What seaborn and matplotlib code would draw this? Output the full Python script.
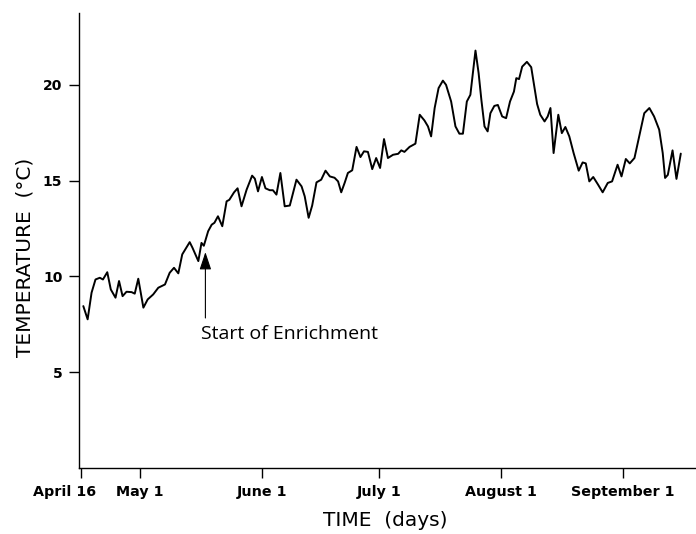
import matplotlib
matplotlib.use("Agg")
import matplotlib.pyplot as plt
import matplotlib.transforms as mtransforms
import seaborn as sns
import pandas as pd

# Day offset from April 16, and water temperature (deg C)
days = [0.6, 1.7, 2.7, 3.7, 4.8, 5.6, 6.7, 7.6, 8.8, 9.7, 10.6, 11.6, 12.9, 13.7,
        14.6, 15.9, 17.0, 18.4, 19.7, 21.4, 22.6, 23.7, 24.8, 25.8, 27.7, 28.4,
        29.9, 30.7, 31.3, 32.4, 33.3, 34.0, 34.9, 36.0, 37.1, 37.8, 39.0, 39.9,
        40.9, 42.2, 43.6, 44.3, 45.1, 46.1, 47.0, 48.1, 48.9, 49.8, 50.8, 51.9,
        53.2, 54.9, 56.2, 57.0, 58.0, 58.9, 60.0, 61.2, 62.3, 63.4, 64.6, 65.5,
        66.3, 67.2, 68.0, 69.1, 70.2, 71.2, 72.1, 73.1, 74.2, 75.2, 76.2, 77.2,
        78.2, 79.5, 80.8, 81.6, 82.4, 83.7, 85.2, 86.3, 87.5, 88.4, 89.2, 90.1,
        91.1, 92.2, 93.0, 94.3, 95.4, 96.4, 97.3, 98.3, 99.2, 100.5, 101.3, 102.0,
        102.8, 103.6, 104.3, 105.3, 106.2, 107.3, 108.3, 109.3, 110.3, 110.9,
        111.6, 112.4, 113.6, 114.7, 115.5, 116.2, 117.0, 118.1, 118.9, 119.6,
        120.4, 121.6, 122.5, 123.4, 124.4, 125.5, 126.8, 127.8, 128.6, 129.5,
        130.5, 131.7, 132.9, 134.2, 135.3, 136.7, 137.7, 138.8, 139.8, 141.0,
        142.2, 143.5, 144.8, 146.0, 147.3, 148.2, 148.8, 149.5, 150.7, 151.7,
        152.8]
temps = [8.45, 7.76, 9.15, 9.84, 9.93, 9.84, 10.22, 9.32, 8.89, 9.76, 8.97, 9.2,
         9.18, 9.1, 9.88, 8.37, 8.8, 9.06, 9.41, 9.58, 10.19, 10.45, 10.16, 11.15,
         11.79, 11.5, 10.8, 11.75, 11.6, 12.36, 12.7, 12.8, 13.14, 12.62, 13.92,
         14.0, 14.39, 14.6, 13.66, 14.53, 15.26, 15.1, 14.44, 15.19, 14.6, 14.5,
         14.5, 14.27, 15.4, 13.66, 13.7, 15.05, 14.7, 14.18, 13.06, 13.7, 14.91,
         15.05, 15.52, 15.22, 15.15, 14.96, 14.39, 14.9, 15.4, 15.54, 16.76, 16.23,
         16.53, 16.5, 15.6, 16.18, 15.66, 17.17, 16.18, 16.35, 16.4, 16.58, 16.5,
         16.76, 16.93, 18.44, 18.14, 17.83, 17.31, 18.79, 19.83, 20.22, 20.0,
         19.13, 17.83, 17.45, 17.45, 19.13, 19.48, 21.79, 20.61, 19.22, 17.83,
         17.57, 18.52, 18.9, 18.95, 18.35, 18.26, 19.13, 19.65, 20.35, 20.3, 20.95,
         21.2, 20.92, 19.9, 19.0, 18.44, 18.09, 18.35, 18.79, 16.44, 18.44, 17.48,
         17.8, 17.31, 16.44, 15.52, 15.95, 15.9, 14.96, 15.19, 14.8, 14.39, 14.88,
         14.96, 15.83, 15.22, 16.13, 15.9, 16.18, 17.31, 18.52, 18.79, 18.35,
         17.66, 16.44, 15.14, 15.3, 16.58, 15.09, 16.41]

tick_days = [0, 15, 46, 76, 107, 138]
tick_labels = ["April 16", "May 1", "June 1", "July 1", "August 1", "September 1"]
y_ticks = [5, 10, 15, 20]

annot_day = 31.7
annot_tip = 11.27
annot_tail = 7.83
annot_text = "Start of Enrichment"
annot_text_day = 30.7
annot_text_temp = 7.0

df = pd.DataFrame({"day": days, "temp": temps})

sns.set_theme(style="ticks")
plt.rcParams["font.family"] = ["DejaVu Sans"]

fig = plt.figure(figsize=(6.96, 5.34), dpi=100)
ax = fig.add_axes([79 / 696, 1 - 468 / 534, 1 - 79 / 696 - 0.001, (468 - 13) / 534])

sns.lineplot(data=df, x="day", y="temp", ax=ax, color="black", linewidth=1.4,
             estimator=None, sort=False)

ax.set_xlim(-0.5, 156.5)
ax.set_ylim(0, 23.75)
ax.set_xticks(tick_days)
ax.set_xticklabels(tick_labels, fontsize=10.3, fontweight="bold")
ax.set_yticks(y_ticks)
ax.set_yticklabels([str(v) for v in y_ticks], fontsize=10, fontweight="bold")
ax.tick_params(axis="both", direction="out", length=7, width=1, color="black",
               pad=5, labelcolor="black")
for s in ["top", "right"]:
    ax.spines[s].set_visible(False)
for s in ["left", "bottom"]:
    ax.spines[s].set_color("black")
    ax.spines[s].set_linewidth(1.0)

# first date label sits left of its tick, as in the original
first = ax.get_xticklabels()[0]
first.set_transform(first.get_transform() +
                    mtransforms.ScaledTranslation(-16 / 100, 0, fig.dpi_scale_trans))

ax.set_xlabel("TIME  (days)", fontsize=14.5, color="black")
ax.xaxis.set_label_coords(0.497, -0.095)
ax.set_ylabel("TEMPERATURE  (°C)", fontsize=14.5, color="black")
ax.yaxis.set_label_coords(-0.072, 0.464)

ax.annotate("", xy=(annot_day, annot_tip), xytext=(annot_day, annot_tail),
            arrowprops=dict(arrowstyle="-|>,head_length=0.6,head_width=0.2",
                            color="black", lw=0.8,
                            mutation_scale=18, shrinkA=0, shrinkB=0))
ax.text(annot_text_day, annot_text_temp, annot_text, fontsize=14,
        family="Open Sans", ha="left", va="center", color="black")

fig.savefig("out.png", dpi=100)
